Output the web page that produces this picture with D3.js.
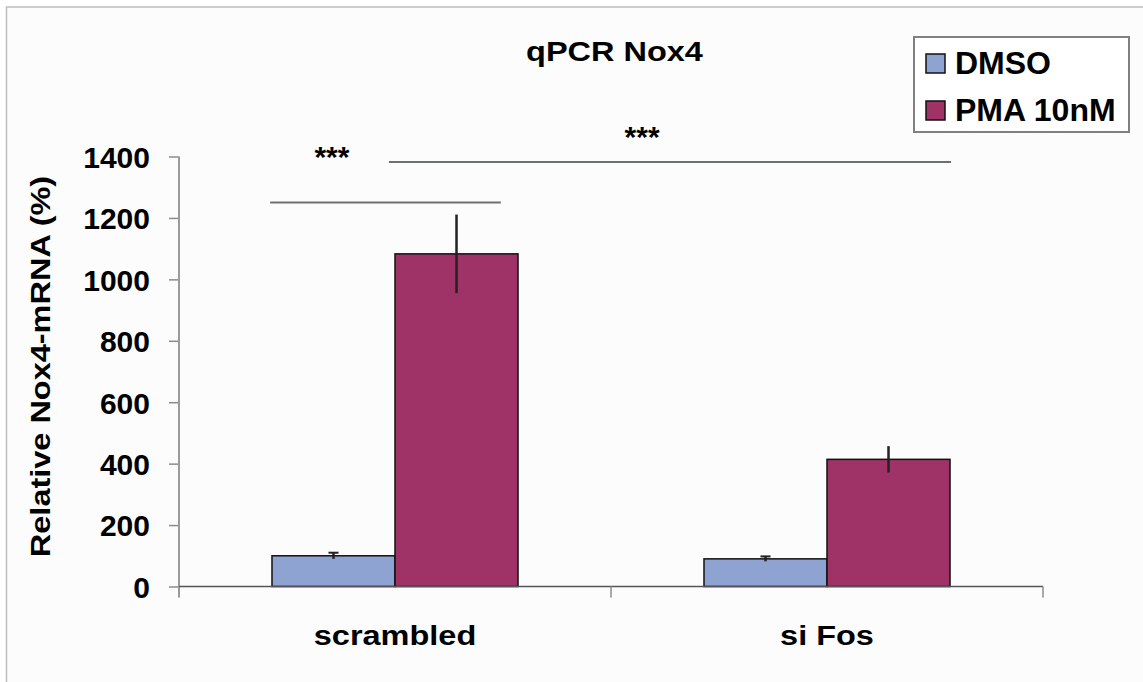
<!DOCTYPE html>
<html>
<head>
<meta charset="utf-8">
<script src="https://cdn.jsdelivr.net/npm/d3@7"></script>
<style>
  html, body { margin: 0; padding: 0; background: #ffffff; }
  svg { display: block; }
  text { font-family: Arial, "Liberation Sans", Helvetica, sans-serif; font-weight: bold; fill: #000; }
</style>
</head>
<body>
<svg id="chart" width="1143" height="682"></svg>
<script>
// Groups, series and values (percent of control)
const categories = ["scrambled", "si Fos"];
const seriesNames = ["DMSO", "PMA 10nM"];
const dmsoValues = [100, 90];
const dmsoErrors = [10, 8];
const pmaValues = [1083, 414];
const pmaErrors = [128, 43];
const yTicks = [0, 200, 400, 600, 800, 1000, 1200, 1400];
const seriesColors = ["#8fa3d3", "#9f3368"];

// Significance brackets: level (value units), start/end as [group, fraction of group width]
const sigLines = [
  { level: 1250, from: ["scrambled", 0.211], to: ["scrambled", 0.745] },
  { level: 1382, from: ["scrambled", 0.486], to: ["si Fos", 0.787] }
];
const sigLabels = [
  { text: "***", at: ["scrambled", 0.354], level: 1367 },
  { text: "***", at: ["si Fos", 0.072], level: 1432 }
];

const svg = d3.select("#chart");

// Panel background with its top/left frame
svg.append("rect")
  .attr("x", 6.5).attr("y", 7)
  .attr("width", 1200).attr("height", 700)
  .attr("fill", "#fcfcfc")
  .attr("stroke", "#bdbdbd").attr("stroke-width", 1.5);

const plot = { left: 179, right: 1043, top: 156.5, bottom: 586.5 };

const x0 = d3.scaleBand().domain(categories).range([plot.left, plot.right]).paddingInner(0).paddingOuter(0);
const x1 = d3.scaleBand().domain(seriesNames).range([0, x0.bandwidth()]).paddingInner(0).paddingOuter(0.756);
const y = d3.scaleLinear().domain([0, 1400]).range([plot.bottom, plot.top]);

const gx = (cat, f) => x0(cat) + f * x0.bandwidth();

// Y axis
const yAxis = d3.axisLeft(y).tickValues(yTicks).tickSize(10).tickSizeOuter(0).tickPadding(19).tickFormat(d3.format("d"));
const gy = svg.append("g").attr("transform", `translate(${plot.left},0)`).call(yAxis);
gy.select(".domain").remove();
gy.selectAll(".tick line").attr("stroke", "#8c8c8c").attr("stroke-width", 1.5);
gy.selectAll(".tick text")
  .attr("font-size", 30).attr("font-family", "Arial, 'Liberation Sans', sans-serif")
  .attr("font-weight", "bold").attr("fill", "#000").attr("dy", "0.36em");
svg.append("line")
  .attr("x1", plot.left).attr("x2", plot.left)
  .attr("y1", y(1400)).attr("y2", y(0) + 11)
  .attr("stroke", "#9a9a9a").attr("stroke-width", 2);

// Bars
const rows = categories.map((c, i) => ({
  cat: c,
  bars: [
    { s: seriesNames[0], v: dmsoValues[i], e: dmsoErrors[i], color: seriesColors[0], cap: 10 },
    { s: seriesNames[1], v: pmaValues[i], e: pmaErrors[i], color: seriesColors[1], cap: 0 }
  ]
}));

const groups = svg.append("g").selectAll("g").data(rows).join("g")
  .attr("transform", d => `translate(${x0(d.cat)},0)`);

groups.selectAll("rect").data(d => d.bars).join("rect")
  .attr("x", d => x1(d.s))
  .attr("y", d => y(d.v))
  .attr("width", x1.bandwidth())
  .attr("height", d => y(0) - y(d.v))
  .attr("fill", d => d.color)
  .attr("stroke", "#111").attr("stroke-width", 1.5);

// X axis line and group boundary ticks
svg.append("line")
  .attr("x1", plot.left).attr("x2", plot.right)
  .attr("y1", y(0)).attr("y2", y(0))
  .attr("stroke", "#555").attr("stroke-width", 1.5);
const bounds = categories.map(c => x0(c)).concat([x0(categories[categories.length - 1]) + x0.bandwidth()]);
svg.append("g").selectAll("line").data(bounds.slice(1)).join("line")
  .attr("x1", d => d).attr("x2", d => d)
  .attr("y1", y(0)).attr("y2", y(0) + 11)
  .attr("stroke", "#8c8c8c").attr("stroke-width", 1.5);

// Error bars
const err = groups.selectAll("g.err").data(d => d.bars).join("g").attr("class", "err");
err.append("line")
  .attr("x1", d => x1(d.s) + x1.bandwidth() / 2).attr("x2", d => x1(d.s) + x1.bandwidth() / 2)
  .attr("y1", d => y(d.v + d.e)).attr("y2", d => y(d.v - d.e))
  .attr("stroke", "#222").attr("stroke-width", 2.5);
err.filter(d => d.cap > 0).append("line")
  .attr("x1", d => x1(d.s) + x1.bandwidth() / 2 - d.cap / 2)
  .attr("x2", d => x1(d.s) + x1.bandwidth() / 2 + d.cap / 2)
  .attr("y1", d => y(d.v + d.e)).attr("y2", d => y(d.v + d.e))
  .attr("stroke", "#222").attr("stroke-width", 2);

// Category labels
svg.append("g").selectAll("text").data(categories).join("text")
  .attr("transform", c => `translate(${x0(c) + x0.bandwidth() / 2},645) scale(1.16,1)`)
  .attr("text-anchor", "middle").attr("font-size", 28)
  .text(c => c);

// Significance lines and stars
svg.append("g").selectAll("line").data(sigLines).join("line")
  .attr("x1", d => gx(d.from[0], d.from[1])).attr("x2", d => gx(d.to[0], d.to[1]))
  .attr("y1", d => y(d.level)).attr("y2", d => y(d.level))
  .attr("stroke", "#6b7070").attr("stroke-width", 2);
svg.append("g").selectAll("text").data(sigLabels).join("text")
  .attr("transform", d => `translate(${gx(d.at[0], d.at[1])},${y(d.level)})`)
  .attr("text-anchor", "middle").attr("font-size", 30)
  .text(d => d.text);

// Title
svg.append("text")
  .attr("transform", "translate(614.5,60.7) scale(1.16,1)")
  .attr("text-anchor", "middle").attr("font-size", 28)
  .text("qPCR Nox4");

// Y axis title
svg.append("text")
  .attr("transform", `translate(50,${(plot.top + plot.bottom) / 2 - 5}) rotate(-90) scale(1.16,1)`)
  .attr("text-anchor", "middle").attr("font-size", 28)
  .text("Relative Nox4-mRNA (%)");

// Legend
const legend = svg.append("g").attr("transform", "translate(914,37)");
legend.append("rect")
  .attr("width", 215).attr("height", 95)
  .attr("fill", "#ffffff").attr("stroke", "#7f8080").attr("stroke-width", 2);
const items = legend.selectAll("g.item").data(seriesNames).join("g").attr("class", "item")
  .attr("transform", (d, i) => `translate(12,${17 + i * 47})`);
items.append("rect")
  .attr("width", 19).attr("height", 19)
  .attr("fill", (d, i) => seriesColors[i])
  .attr("stroke", "#111").attr("stroke-width", 1.5);
items.append("text")
  .attr("x", 29).attr("y", 20)
  .attr("font-size", 32)
  .text(d => d);
</script>
</body>
</html>
